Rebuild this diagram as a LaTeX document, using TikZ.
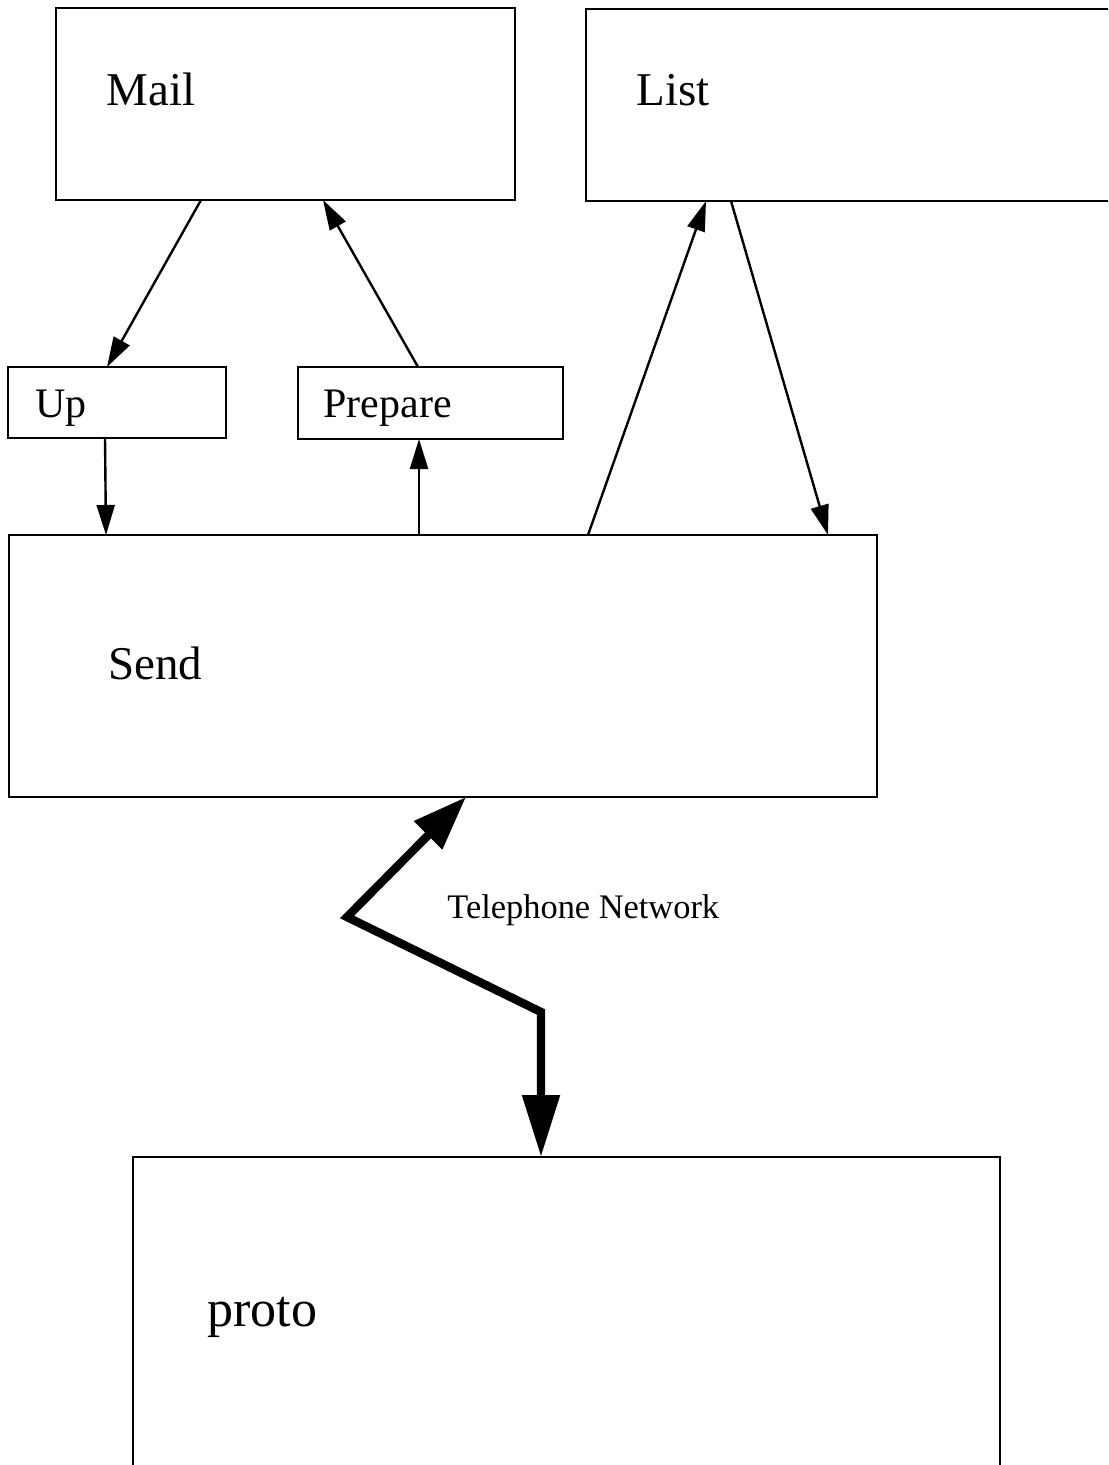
\documentclass[tikz,border=0pt]{standalone}
\usepackage{fontspec}
\setmainfont{Liberation Serif}
\usetikzlibrary{arrows.meta}
\begin{document}
\begin{tikzpicture}[x=0.5pt,y=-0.5pt,
  box/.style={draw,line width=1.3pt,inner sep=0pt,outer sep=0pt},
  lbl/.style={anchor=base west,inner sep=0pt},
  thinarrow/.style={line width=1.2pt,-{Triangle[length=15pt,width=9pt]}},
  thickarrow/.style={line width=4.2pt,{Triangle[length=27pt,width=19pt]}-{Triangle[length=31pt,width=18pt]}}]
\useasboundingbox (0,0) rectangle (1108,1465);
\clip (0,0) rectangle (1108,1465);
% boxes
\node[box,minimum width=229.5pt,minimum height=96pt] (mail) at (285.5,104) {};
\node[box,minimum width=267pt,minimum height=96pt] (list) at (853,105) {};
\node[box,minimum width=109pt,minimum height=35.5pt] (up) at (117,402.5) {};
\node[box,minimum width=132.5pt,minimum height=36pt] (prep) at (430.5,403) {};
\node[box,minimum width=434pt,minimum height=131pt] (send) at (443,666) {};
\node[box,minimum width=433.5pt,minimum height=166.5pt] (proto) at (566.5,1323.5) {};
% labels
\node[lbl,font=\fontsize{23.5}{28}\selectfont] (tmail) at (106,106) {Mail};
\node[lbl,font=\fontsize{23.5}{28}\selectfont] (tlist) at (636,106) {List};
\node[lbl,font=\fontsize{21}{25}\selectfont] (tup) at (35,417) {Up};
\node[lbl,font=\fontsize{21}{25}\selectfont] (tprep) at (323,417) {Prepare};
\node[lbl,font=\fontsize{23.5}{28}\selectfont] (tsend) at (108,679) {Send};
\node[lbl,font=\fontsize{26}{31}\selectfont] (tproto) at (207,1326) {proto};
\node[lbl,font=\fontsize{17.2}{20}\selectfont] (ttel) at (447,918) {Telephone Network};
% connectors
\draw[thinarrow] ([xshift=72.5pt]mail.south west) -- ([xshift=49.5pt]up.north west);
\draw[thinarrow] ([xshift=60pt]prep.north west) -- ([xshift=133.5pt]mail.south west);
\draw[thinarrow] ([xshift=48.5pt]up.south west) -- ([xshift=48.5pt]send.north west);
\draw[thinarrow] ([xshift=205pt]send.north west) -- ([xshift=60.5pt]prep.south west);
\draw[thinarrow] ([xshift=289.5pt]send.north west) -- ([xshift=60pt]list.south west);
\draw[thinarrow] ([xshift=72.5pt]list.south west) -- ([xshift=409.5pt]send.north west);
% telephone network
\coordinate (bendA) at (347,917);
\coordinate (bendB) at (541,1012);
\draw[thickarrow] ([xshift=228.5pt]send.south west) -- (bendA) -- (bendB) -- ([xshift=204pt]proto.north west);
\end{tikzpicture}
\end{document}
